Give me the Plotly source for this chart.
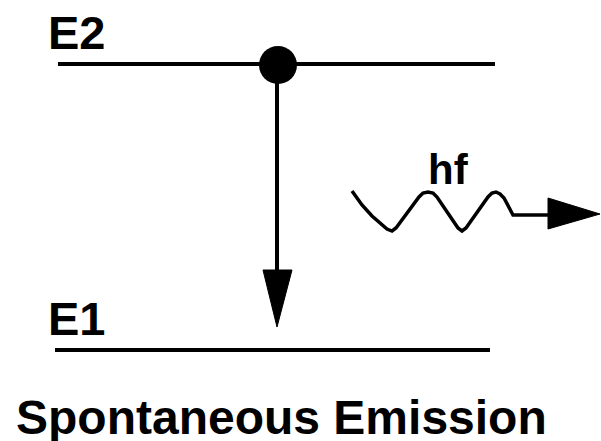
import plotly.graph_objects as go

# Diagram geometry (pixel space, y downwards)
level_names = ["E2", "E1"]
level_y = [64, 350]
level_x0 = [58, 55]
level_x1 = [495, 490]

electron_x = [278]
electron_y = [65]

drop_x = [277, 277]
drop_y = [65, 272]
drop_head_x = [263, 292, 277, 263]
drop_head_y = [270, 270, 327, 270]

wave_x = [352, 362, 372, 381, 387, 392, 396, 419, 423, 428, 433, 437,
          458, 462, 466, 488, 492, 496, 500, 504, 513, 550]
wave_y = [191, 205, 216, 224, 229, 231, 228, 197, 193, 192, 193, 197,
          228, 231, 228, 197, 193, 192, 194, 198, 215, 215]
photon_head_x = [548, 548, 600, 548]
photon_head_y = [198, 229, 214, 198]

photon_label = "hf"
title_text = "Spontaneous Emission"

FONT = "Liberation Sans, Arial, sans-serif"
fig = go.Figure()

for i in range(len(level_names)):
    fig.add_trace(go.Scatter(x=[level_x0[i], level_x1[i]], y=[level_y[i], level_y[i]],
                             mode="lines", line=dict(color="black", width=4)))

fig.add_trace(go.Scatter(x=drop_x, y=drop_y, mode="lines", line=dict(color="black", width=4)))
fig.add_trace(go.Scatter(x=drop_head_x, y=drop_head_y, mode="lines", fill="toself",
                         fillcolor="black", line=dict(color="black", width=1)))
fig.add_trace(go.Scatter(x=electron_x, y=electron_y, mode="markers",
                         marker=dict(color="black", size=38, line=dict(width=0))))
fig.add_trace(go.Scatter(x=wave_x, y=wave_y, mode="lines",
                         line=dict(color="black", width=3.5)))
fig.add_trace(go.Scatter(x=photon_head_x, y=photon_head_y, mode="lines", fill="toself",
                         fillcolor="black", line=dict(color="black", width=1)))

label_pos = [(46, 32), (46, 318)]
for name, (lx, ly) in zip(level_names, label_pos):
    fig.add_annotation(x=lx, y=ly, text=f"<b>{name}</b>", showarrow=False,
                       xanchor="left", yanchor="middle",
                       font=dict(family=FONT, size=47, color="black"))
fig.add_annotation(x=448, y=169, text=f"<b>{photon_label}</b>", showarrow=False,
                   xanchor="center", yanchor="middle",
                   font=dict(family=FONT, size=42, color="black"))
fig.add_annotation(x=281, y=417, text=f"<b>{title_text}</b>", showarrow=False,
                   xanchor="center", yanchor="middle",
                   font=dict(family=FONT, size=48, color="black"))

fig.update_layout(width=601, height=441, margin=dict(l=0, r=0, t=0, b=0),
                  paper_bgcolor="white", plot_bgcolor="white", showlegend=False,
                  xaxis=dict(range=[0, 601], visible=False, fixedrange=True),
                  yaxis=dict(range=[441, 0], visible=False, fixedrange=True))
fig.write_html("out.html", config={"displayModeBar": False},
               post_script="document.body.style.margin='0';document.body.style.overflow='hidden';")
